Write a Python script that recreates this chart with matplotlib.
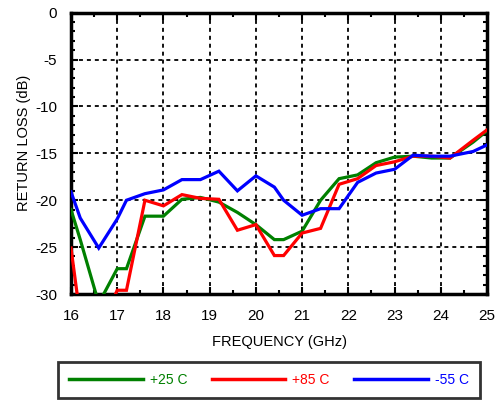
import matplotlib
matplotlib.use("Agg")
import matplotlib.pyplot as plt
from matplotlib.ticker import MultipleLocator

plt.rcParams['font.family'] = ['Liberation Sans', 'DejaVu Sans']
plt.rcParams['axes.unicode_minus'] = False

freq = [16.0, 16.2, 16.6, 17.0, 17.2, 17.6, 18.0, 18.4, 18.8, 19.2, 19.6, 20.0, 20.4,
        20.6, 21.0, 21.4, 21.8, 22.2, 22.6, 23.0, 23.4, 23.8, 24.2, 24.7, 25.0]
rl_25 = [-21.0, -24.2, -31.0, -27.3, -27.3, -21.7, -21.7, -19.9, -19.7, -20.2, -21.3, -22.6, -24.2,
         -24.2, -23.3, -20.0, -17.7, -17.3, -16.0, -15.4, -15.3, -15.5, -15.5, -13.8, -12.6]
rl_85 = [-25.1, -32.5, -34.0, -29.6, -29.6, -20.0, -20.6, -19.4, -19.8, -19.9, -23.2, -22.6, -25.9,
         -25.9, -23.5, -23.0, -18.3, -17.7, -16.3, -15.9, -15.3, -15.3, -15.5, -13.6, -12.5]
rl_m55 = [-19.1, -21.9, -25.1, -22.0, -20.0, -19.3, -18.9, -17.8, -17.8, -16.9, -19.0, -17.4, -18.6,
          -20.0, -21.6, -20.9, -20.9, -18.1, -17.1, -16.7, -15.2, -15.3, -15.3, -14.8, -14.1]
labels = ['+25 C', '+85 C', '-55 C']
colors = ['#008000', '#ff0000', '#0000ff']

fig = plt.figure(figsize=(4.97, 4.0), dpi=100)
ax = fig.add_axes([71/497, 1-294/400, (487-71)/497, (294-12.7)/400])

for y, lab, c in zip([rl_25, rl_85, rl_m55], labels, colors):
    ax.plot(freq, y, color=c, lw=2.3, label=lab, solid_joinstyle='miter', zorder=3)

ax.set_xlim(16, 25)
ax.set_ylim(-30, 0)
ax.xaxis.set_major_locator(MultipleLocator(1))
ax.xaxis.set_minor_locator(MultipleLocator(0.5))
ax.yaxis.set_major_locator(MultipleLocator(5))
ax.yaxis.set_minor_locator(MultipleLocator(1))
ax.tick_params(which='both', direction='in', top=True, right=True, width=1.5, labelsize=11)
ax.tick_params(axis='x', which='major', length=5, pad=11)
ax.tick_params(axis='y', which='major', length=5, pad=10)
ax.tick_params(which='minor', length=3)
ax.grid(True, which='major', color='black', linestyle=(0, (2.2, 2.2)), linewidth=1.3)
for s in ax.spines.values():
    s.set_linewidth(2.5)

ax.set_xlabel('FREQUENCY (GHz)', fontsize=10.5)
ax.set_ylabel('RETURN LOSS (dB)', fontsize=10.5)
ax.xaxis.set_label_coords(0.5, -(335 - 294) / 281.3)
ax.yaxis.set_label_coords(-(71 - 31) / 416, (294 - 142.5) / 281.3)

leg = fig.legend(loc='center', bbox_to_anchor=(269/497, 1-380/400), ncol=3, frameon=True,
                 fontsize=10, handlelength=5.3, handletextpad=0.5, columnspacing=1.75,
                 borderpad=0.8, labelcolor='linecolor', fancybox=False, edgecolor='black')
leg.get_frame().set_linewidth(2)
for l in leg.get_lines():
    l.set_linewidth(2.5)

fig.savefig('out.png', dpi=100)
